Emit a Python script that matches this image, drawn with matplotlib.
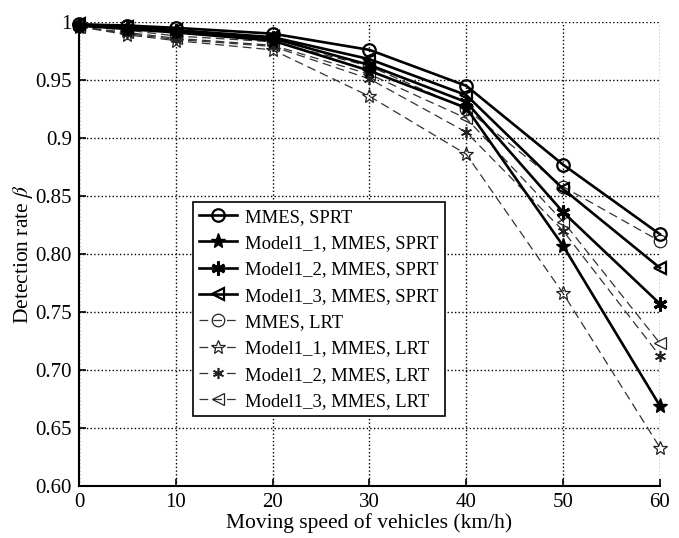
import matplotlib
matplotlib.use('Agg')
import matplotlib.pyplot as plt

plt.rcParams['font.family'] = ['Liberation Serif', 'DejaVu Serif']
plt.rcParams['mathtext.fontset'] = 'stix'

speed = [0, 5, 10, 20, 30, 40, 50, 60]

mmes_sprt = [0.998, 0.997, 0.995, 0.990, 0.976, 0.945, 0.877, 0.817]
m1_1_sprt = [0.997, 0.994, 0.991, 0.984, 0.958, 0.926, 0.807, 0.669]
m1_2_sprt = [0.997, 0.995, 0.992, 0.986, 0.963, 0.931, 0.836, 0.757]
m1_3_sprt = [0.998, 0.996, 0.993, 0.987, 0.968, 0.937, 0.856, 0.788]
mmes_lrt = [0.997, 0.993, 0.988, 0.983, 0.962, 0.925, 0.858, 0.811]
m1_1_lrt = [0.996, 0.989, 0.984, 0.976, 0.936, 0.886, 0.766, 0.633]
m1_2_lrt = [0.996, 0.990, 0.985, 0.979, 0.951, 0.905, 0.820, 0.712]
m1_3_lrt = [0.996, 0.991, 0.986, 0.980, 0.955, 0.917, 0.828, 0.723]

labels = ['MMES, SPRT', 'Model1_1, MMES, SPRT', 'Model1_2, MMES, SPRT',
          'Model1_3, MMES, SPRT', 'MMES, LRT', 'Model1_1, MMES, LRT',
          'Model1_2, MMES, LRT', 'Model1_3, MMES, LRT']

ytick_vals = [0.60, 0.65, 0.70, 0.75, 0.80, 0.85, 0.90, 0.95, 1.0]
ytick_labels = ['0.60', '0.65', '0.70', '0.75', '0.80', '0.85', '0.9', '0.95', '1']

fig = plt.figure(figsize=(6.79, 5.38), dpi=100)
ax = fig.add_axes([0.1163, 0.0967, 0.8557, 0.8623])

asterisk = (6, 2, 0)
solid = dict(color='black', lw=1.9, ls='-', clip_on=False, zorder=4)
dashed = dict(color='#333333', lw=0.9, ls=(0, (7, 4)), clip_on=False, zorder=3)

ax.plot(speed, mmes_sprt, marker='o', ms=9, mfc='none', mec='black', mew=1.6,
        label=labels[0], **solid)
ax.plot(speed, m1_1_sprt, marker='*', ms=11, mfc='black', mec='black',
        label=labels[1], **solid)
ax.plot(speed, m1_2_sprt, marker=asterisk, ms=10, mfc='black', mec='black', mew=2.2,
        label=labels[2], **solid)
ax.plot(speed, m1_3_sprt, marker='<', ms=9, mfc='none', mec='black', mew=1.6,
        label=labels[3], **solid)
ax.plot(speed, mmes_lrt, marker='o', ms=9, mfc='none', mec='#222222', mew=0.9,
        label=labels[4], **dashed)
ax.plot(speed, m1_1_lrt, marker='*', ms=10, mfc='none', mec='#222222', mew=0.9,
        label=labels[5], **dashed)
ax.plot(speed, m1_2_lrt, marker=asterisk, ms=8, mfc='none', mec='#222222', mew=1.2,
        label=labels[6], **dashed)
ax.plot(speed, m1_3_lrt, marker='<', ms=9, mfc='none', mec='#222222', mew=0.9,
        label=labels[7], **dashed)

ax.set_xlim(0, 60)
ax.set_ylim(0.6, 1.0)
ax.set_xticks([0, 10, 20, 30, 40, 50, 60])
ax.set_yticks(ytick_vals)
ax.set_yticklabels(ytick_labels)
ax.tick_params(direction='in', length=5, width=1.2, labelsize=15, pad=5)
ax.grid(True, ls=':', color='black', lw=1.0)
ax.set_axisbelow(True)
for s in ['top', 'right']:
    ax.spines[s].set_visible(False)
for s in ['left', 'bottom']:
    ax.spines[s].set_linewidth(1.5)

ax.set_xlabel('Moving speed of vehicles (km/h)', fontsize=15.5, labelpad=1)
ax.set_ylabel(r'Detection rate $\beta$', fontsize=15.5, labelpad=0)

leg = ax.legend(loc='upper left', bbox_to_anchor=(0.196, 0.612), fontsize=13.4,
                frameon=True, fancybox=False, edgecolor='black', framealpha=1,
                handlelength=2.0, borderpad=0.35, labelspacing=0.5,
                handletextpad=0.45, borderaxespad=0)
leg.get_frame().set_linewidth(1.2)

fig.savefig('out.png', dpi=100)
